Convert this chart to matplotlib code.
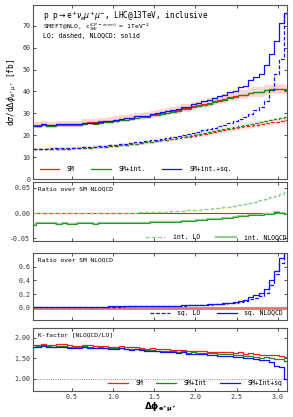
import numpy as np
import matplotlib
matplotlib.use("Agg")
import matplotlib.pyplot as plt
from matplotlib.ticker import FormatStrFormatter

plt.rcParams['font.family'] = ['DejaVu Sans Mono', 'DejaVu Sans']
plt.rcParams['mathtext.fontset'] = 'dejavusans'

# ---------------- data ----------------
n_bins = 50
bin_edges = np.linspace(0.0, np.pi, n_bins + 1)

sm_lo = [13.5, 13.5, 13.55, 13.6, 13.65, 13.7, 13.75, 13.85, 13.95, 14.05,
         14.15, 14.3, 14.45, 14.6, 14.8, 15.0, 15.2, 15.4, 15.65, 15.9,
         16.15, 16.4, 16.7, 17.0, 17.3, 17.6, 17.95, 18.3, 18.65, 19.0,
         19.4, 19.8, 20.2, 20.6, 21.0, 21.45, 21.9, 22.3, 22.75, 23.15,
         23.55, 24.0, 24.4, 24.8, 25.2, 25.55, 25.9, 26.2, 26.5, 26.75]

sm_nlo = [24.6, 24.6, 25.1, 24.9, 24.8, 25.1, 25.2, 25.1, 25.1, 25.3,
          25.8, 25.9, 25.9, 26.3, 26.5, 26.7, 27.1, 27.6, 27.7, 28.0,
          28.6, 28.7, 28.9, 29.6, 29.8, 30.3, 30.9, 31.3, 31.5, 32.5,
          32.4, 33.3, 33.7, 34.4, 34.9, 35.6, 36.1, 36.6, 37.5, 37.7,
          38.6, 38.6, 39.5, 39.7, 39.8, 40.6, 40.9, 41.1, 41.3, 40.9]

# interference / SM NLOQCD
int_lo_rel = [0.0, 0.0, 0.0, 0.0, 0.0, 0.0, 0.0, 0.0001, 0.0001, 0.0001,
              0.0002, 0.0002, 0.0003, 0.0003, 0.0004, 0.0005, 0.0006, 0.0007, 0.0008, 0.0009,
              0.001, 0.0012, 0.0015, 0.0018, 0.0021, 0.0025, 0.0029, 0.0034, 0.0039, 0.0045,
              0.0051, 0.0058, 0.0065, 0.0073, 0.0082, 0.0092, 0.0103, 0.0115, 0.0128, 0.0142,
              0.0157, 0.0173, 0.0195, 0.022, 0.025, 0.028, 0.031, 0.034, 0.038, 0.041]
int_nlo_rel = [-0.023, -0.0195, -0.019, -0.020, -0.0205, -0.021, -0.0205, -0.021, -0.021, -0.0205,
               -0.020, -0.0205, -0.021, -0.020, -0.0205, -0.020, -0.0205, -0.0195, -0.020, -0.020,
               -0.0195, -0.0195, -0.019, -0.0185, -0.018, -0.018, -0.0175, -0.0175, -0.017, -0.016,
               -0.0155, -0.0148, -0.014, -0.0135, -0.0125, -0.012, -0.011, -0.0095, -0.0088, -0.0078,
               -0.0065, -0.0055, -0.0045, -0.0035, -0.003, -0.002, -0.001, 0.002, 0.0005, -0.001]

# squared term / SM NLOQCD
sq_lo_rel = [0.011, 0.011, 0.011, 0.012, 0.012, 0.012, 0.012, 0.013, 0.013, 0.013,
             0.014, 0.014, 0.014, 0.015, 0.015, 0.016, 0.016, 0.017, 0.018, 0.018,
             0.019, 0.020, 0.021, 0.022, 0.023, 0.024, 0.026, 0.027, 0.029, 0.031,
             0.033, 0.035, 0.038, 0.041, 0.044, 0.048, 0.052, 0.057, 0.063, 0.072,
             0.085, 0.10, 0.12, 0.145, 0.17, 0.22, 0.33, 0.50, 0.65, 1.15]
sq_nlo_rel = [0.012, 0.013, 0.012, 0.013, 0.013, 0.014, 0.014, 0.014, 0.015, 0.015,
              0.015, 0.016, 0.016, 0.017, 0.017, 0.018, 0.018, 0.019, 0.020, 0.021,
              0.021, 0.022, 0.023, 0.024, 0.026, 0.027, 0.029, 0.030, 0.032, 0.034,
              0.036, 0.039, 0.042, 0.045, 0.049, 0.053, 0.058, 0.064, 0.070, 0.080,
              0.095, 0.11, 0.15, 0.18, 0.21, 0.28, 0.40, 0.53, 0.72, 0.85]

scale_unc_nlo = 0.055
scale_unc_lo = 0.06

xtick_vals = [0.5, 1.0, 1.5, 2.0, 2.5, 3.0]

# ---------------- derived ----------------
x = 0.5 * (bin_edges[:-1] + bin_edges[1:])
sm_lo = np.array(sm_lo); sm_nlo = np.array(sm_nlo)
int_lo_rel = np.array(int_lo_rel); int_nlo_rel = np.array(int_nlo_rel)
sq_lo_rel = np.array(sq_lo_rel); sq_nlo_rel = np.array(sq_nlo_rel)

smint_lo = sm_lo + sm_nlo * int_lo_rel
smint_nlo = sm_nlo * (1 + int_nlo_rel)
full_lo = smint_lo + sm_nlo * sq_lo_rel
full_nlo = smint_nlo + sm_nlo * sq_nlo_rel

k_sm = sm_nlo / sm_lo
k_int = smint_nlo / smint_lo
k_full = full_nlo / full_lo

RED = '#ff1a1a'
GREEN = '#129112'
BLUE = '#1010ff'

fig = plt.figure(figsize=(2.93, 4.17), dpi=100)
L, W = 0.1126, 0.867
ax1 = fig.add_axes([L, 0.5707, W, 0.4173])
ax2 = fig.add_axes([L, 0.4220, W, 0.1415])
ax3 = fig.add_axes([L, 0.2326, W, 0.1607])
ax4 = fig.add_axes([L, 0.0624, W, 0.1510])

for ax in (ax1, ax2, ax3, ax4):
    ax.set_xlim(x[0], x[-1])
    ax.set_xticks(xtick_vals)
    ax.tick_params(direction='in', top=True, right=True, length=2.5, width=0.6,
                   labelsize=4.8, pad=2, colors='#333333')
    for s in ax.spines.values():
        s.set_color('#555555')
        s.set_linewidth(0.8)
    if ax is not ax4:
        ax.tick_params(labelbottom=False)

lw = 0.9
# ---- main panel ----
ax1.fill_between(x, sm_nlo * (1 - scale_unc_nlo), sm_nlo * (1 + scale_unc_nlo),
                 step='mid', color=RED, alpha=0.18, lw=0)
ax1.fill_between(x, sm_lo * (1 - scale_unc_lo), sm_lo * (1 + scale_unc_lo),
                 step='mid', color=RED, alpha=0.10, lw=0)
ax1.step(x, sm_nlo, where='mid', color=RED, lw=lw, label='SM')
ax1.step(x, smint_nlo, where='mid', color=GREEN, lw=lw, label='SM+int.')
ax1.step(x, full_nlo, where='mid', color=BLUE, lw=lw, label='SM+int.+sq.')
ax1.step(x, sm_lo, where='mid', color=RED, lw=lw, ls=(0, (3, 1.5)))
ax1.step(x, smint_lo, where='mid', color=GREEN, lw=lw, ls=(0, (3, 1.5)))
ax1.step(x, full_lo, where='mid', color=BLUE, lw=lw, ls=(0, (3, 1.5)))
ax1.set_ylim(0, 79.5)
ax1.set_yticks([0, 10, 20, 30, 40, 50, 60, 70])
ax1.set_ylabel(r'd$\sigma$/d$\Delta\phi_{e^{+}\mu^{+}}$ [fb]', fontsize=5.6, labelpad=2)
ax1.text(0.04, 0.978, r'p p$\rightarrow$e$^{+}\nu_{e}\mu^{+}\mu^{-}$, LHC@13TeV, inclusive',
         transform=ax1.transAxes, fontsize=5.6, va='top', ha='left')
ax1.text(0.04, 0.905, r'SMEFT@NLO, c$_{3W}^{(CP-even)}$ = 1TeV$^{-2}$',
         transform=ax1.transAxes, fontsize=4.6, va='top', ha='left')
ax1.text(0.04, 0.840, 'LO: dashed, NLOQCD: solid',
         transform=ax1.transAxes, fontsize=4.7, va='top', ha='left')
ax1.legend(loc='lower left', ncol=3, frameon=False, fontsize=4.7, handlelength=3,
           handletextpad=1.2, columnspacing=2.5, bbox_to_anchor=(0.0, 0.0),
           borderaxespad=0.6)

# ---- ratio int ----
ax2.axhline(0, color=RED, lw=0.8)
ax2.step(x, int_lo_rel, where='mid', color='#8fcf8f', lw=1.0, ls=(0, (3, 1.5)), label='int. LO')
ax2.step(x, int_nlo_rel, where='mid', color='#8fcf8f', lw=1.6, label='int. NLOQCD')
ax2.step(x, int_nlo_rel, where='mid', color=GREEN, lw=0.6)
ax2.set_ylim(-0.055, 0.061)
ax2.set_yticks([-0.05, 0.0, 0.05])
ax2.yaxis.set_major_formatter(FormatStrFormatter('%.2f'))
ax2.text(0.02, 0.93, 'Ratio over SM NLOQCD', transform=ax2.transAxes,
         fontsize=4.5, va='top', ha='left')
ax2.legend(loc='lower right', ncol=2, frameon=False, fontsize=4.7, handlelength=3,
           handletextpad=1.2, columnspacing=2.5, borderaxespad=-0.3)

# ---- ratio sq ----
ax3.axhline(0, color='#f07070', lw=2.0)
ax3.step(x, sq_lo_rel, where='mid', color=BLUE, lw=lw, ls=(0, (3, 1.5)), label='sq. LO')
ax3.step(x, sq_nlo_rel, where='mid', color=BLUE, lw=lw, label='sq. NLOQCD')
ax3.set_ylim(-0.18, 0.8)
ax3.set_yticks([0.0, 0.2, 0.4, 0.6])
ax3.yaxis.set_major_formatter(FormatStrFormatter('%.1f'))
ax3.text(0.02, 0.93, 'Ratio over SM NLOQCD', transform=ax3.transAxes,
         fontsize=4.5, va='top', ha='left')
ax3.legend(loc='lower right', ncol=2, frameon=False, fontsize=4.7, handlelength=3,
           handletextpad=1.2, columnspacing=2.5, borderaxespad=0.2)

# ---- K-factor ----
ax4.axhline(1.0, color='#666666', lw=0.6, ls=':')
ax4.step(x, k_sm, where='mid', color=RED, lw=lw, label='SM')
ax4.step(x, k_int, where='mid', color=GREEN, lw=lw, label='SM+Int')
ax4.step(x, k_full, where='mid', color=BLUE, lw=lw, label='SM+Int+sq')
ax4.set_ylim(0.71, 2.23)
ax4.set_yticks([1.0, 1.5, 2.0])
ax4.yaxis.set_major_formatter(FormatStrFormatter('%.2f'))
ax4.xaxis.set_major_formatter(FormatStrFormatter('%.1f'))
ax4.text(0.02, 0.93, 'K-factor [NLOQCD/LO]', transform=ax4.transAxes,
         fontsize=4.5, va='top', ha='left')
ax4.legend(loc='lower right', ncol=3, frameon=False, fontsize=4.7, handlelength=3,
           handletextpad=1.2, columnspacing=2.0, borderaxespad=0.3)
ax4.set_xlabel(r'$\mathbf{\Delta\phi_{e^{+}\mu^{+}}}$', fontsize=6.5, labelpad=1)

fig.savefig('out.png', dpi=100)
